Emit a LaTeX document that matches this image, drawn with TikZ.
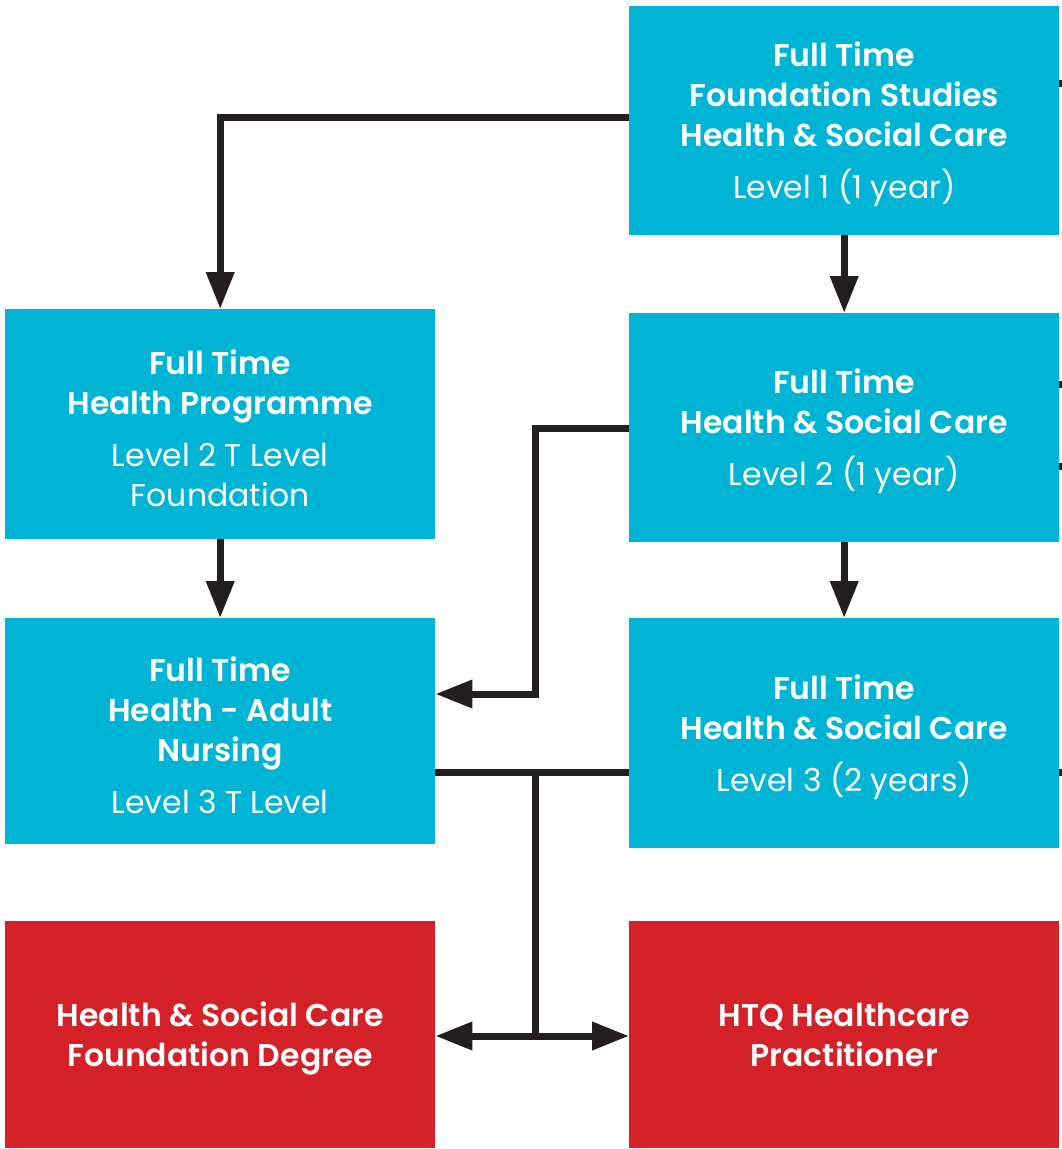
\documentclass[tikz,border=0pt]{standalone}
\usepackage{fontspec}
\IfFontExistsTF{Poppins SemiBold}
  {\setmainfont{Poppins}[BoldFont={Poppins SemiBold}]}
  {\setmainfont{Poppins}}
\usetikzlibrary{arrows.meta}
\definecolor{cyanbox}{HTML}{00B4D5}
\definecolor{redbox}{HTML}{D42127}
\definecolor{lineblk}{HTML}{231F20}
\tikzset{
  box/.style={fill=cyanbox, anchor=north west, inner sep=0pt,
    minimum width=430pt},
  redb/.style={box, fill=redbox},
  lbl/.style={text=white, inner sep=0pt, align=center, yshift=-4pt,
    font=\fontsize{31.5}{40}\selectfont},
  conn/.style={draw=lineblk, line width=7pt, line join=miter},
  arr/.style={conn, -{Triangle[length=37pt,width=27pt]}},
  darr/.style={conn, {Triangle[length=37pt,width=27pt]}-{Triangle[length=37pt,width=27pt]}},
}
\newcommand{\hd}[1]{\textbf{#1}}
\begin{document}
\begin{tikzpicture}[x=1pt,y=-1pt]
\useasboundingbox (0,0) rectangle (1062,1149);
\node[box, minimum height=229pt] (t) at (629,6) {};
\node[lbl] (tT) at (t.center)
  {\hd{Full Time}\\\hd{Foundation Studies}\\\hd{Health \& Social Care}\\[12pt]Level 1 (1 year)};
\node[box, minimum height=230pt] (l1) at (5,309) {};
\node[lbl] (l1T) at (l1.center)
  {\hd{Full Time}\\\hd{Health Programme}\\[12pt]Level 2 T Level\\Foundation};
\node[box, minimum height=229pt] (r2) at (629,313) {};
\node[lbl] (r2T) at (r2.center)
  {\hd{Full Time}\\\hd{Health \& Social Care}\\[12pt]Level 2 (1 year)};
\node[box, minimum height=226pt] (l2) at (5,618) {};
\node[lbl] (l2T) at (l2.center)
  {\hd{Full Time}\\\hd{Health - Adult}\\\hd{Nursing}\\[12pt]Level 3 T Level};
\node[box, minimum height=230pt] (r3) at (629,618) {};
\node[lbl] (r3T) at (r3.center)
  {\hd{Full Time}\\\hd{Health \& Social Care}\\[12pt]Level 3 (2 years)};
\node[redb, minimum height=227pt] (f1) at (5,921) {};
\node[lbl] (f1T) at (f1.center)
  {\hd{Health \& Social Care}\\\hd{Foundation Degree}};
\node[redb, minimum height=227pt] (f2) at (629,921) {};
\node[lbl, yshift=4pt] (f2T) at (f2.center)
  {\hd{HTQ Healthcare}\\\hd{Practitioner}};
% connectors
\coordinate (b1) at (535,694);
\coordinate (j1) at (535,772);
\coordinate (j2) at (535,1036);
\draw[arr] (t.west |- 0,117) -| (l1.north);
\draw[arr] (t.south) -- (r2.north);
\draw[arr] (r2.west |- 0,428) -| (b1) -- (l2.east |- b1);
\draw[arr] (l1.south) -- (l2.north);
\draw[arr] (r2.south) -- (r3.north);
\draw[conn] (l2.east |- j1) -- (r3.west |- j1);
\draw[conn] (j1) -- (j2);
\draw[darr] (f1.east |- j2) -- (f2.west |- j2);
% stubs leaving the picture on the right
\coordinate (s1) at (1062,83);
\coordinate (s2) at (1062,384);
\coordinate (s3) at (1062,466);
\coordinate (s4) at (1062,772);
\draw[conn] (t.east |- s1) -- (s1);
\draw[conn] (r2.east |- s2) -- (s2);
\draw[conn] (r2.east |- s3) -- (s3);
\draw[conn] (r3.east |- s4) -- (s4);
\end{tikzpicture}
\end{document}
